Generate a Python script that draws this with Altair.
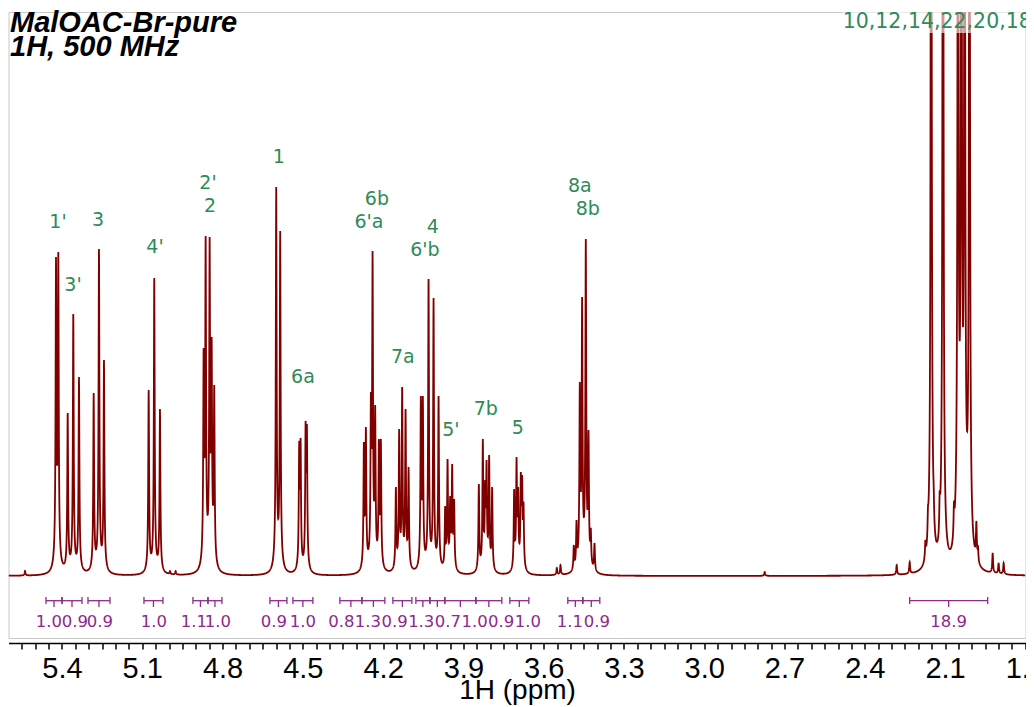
import numpy as np
import pandas as pd
import altair as alt

PPM_LEFT, PPM_RIGHT = 5.5999, 1.7995
HW = 0.0018    # narrow Lorentzian half width (ppm)
HWB = 0.008    # broad foot half width (ppm)
BF = 0.05      # fraction of the broad foot

# ---- peaks: position (ppm) and apex height (px above baseline)
peak_ppm = [
    5.5382,
    5.4224, 5.4138,
    5.3787, 5.3578, 5.3365,
    5.2816, 5.2618, 5.2431,
    5.0761, 5.0552, 5.0339,
    4.9966, 4.9753,
    4.8707, 4.8632, 4.8483, 4.8408, 4.8311,
    4.5995, 4.5846,
    4.5136, 4.5084, 4.4897, 4.4848,
    4.2719, 4.2644, 4.2457, 4.2394, 4.2297, 4.2158, 4.2084,
    4.1523, 4.1400, 4.1288, 4.1161, 4.1049,
    4.0590, 4.0515, 4.0302, 4.0115, 3.9928,
    3.9682, 3.9592, 3.9495, 3.9420, 3.9346,
    3.8423, 3.8274, 3.8188, 3.8135, 3.8038, 3.7926,
    3.7104, 3.7014, 3.6955, 3.6854, 3.6805, 3.6753,
    3.5509, 3.5371,
    3.4874, 3.4773, 3.4650, 3.4564, 3.4426, 3.4325, 3.4239, 3.4101,
    2.7739,
    2.2809, 2.2323,
    2.1736, 2.1639, 2.1520, 2.1426, 2.1202, 2.1079, 2.0668, 2.0518, 2.0391,
    2.0268, 2.0089, 1.9831, 1.9771,
    1.9222, 1.9000, 1.8812,
]
peak_height = [
    5,
    319, 324,
    163, 262, 199,
    183, 327, 216,
    186, 298, 167,
    5, 5,
    228, 340, 339, 239, 191,
    389, 345,
    135, 138, 155, 152,
    134, 149, 184, 325, 171, 137, 137,
    89, 147, 189, 167, 109,
    180, 180, 297, 278, 180,
    70, 117, 80, 112, 77,
    92, 137, 96, 116, 121, 89,
    87, 119, 89, 104, 101, 74,
    8, 11,
    31, 56, 194, 279, 337, 146, 48, 33,
    4,
    11, 14,
    36, 70, 1200, 90, 85, 1200, 75, 1100, 1100,
    1100, 1100, 55, 30,
    23, 13, 13,
]

# ---- assignment labels
peak_labels = ["1'", "3'", "3", "4'", "2'", "2", "1", "6a", "6b", "6'a",
               "4", "6'b", "7a", "5'", "7b", "5", "8a", "8b"]
label_ppm = [5.4149, 5.3589, 5.2655, 5.0526, 4.8546, 4.8471, 4.5894, 4.4997,
             4.2233, 4.2532, 4.0141, 4.0440, 4.1262, 3.9469, 3.8161, 3.6966,
             3.4650, 3.4351]
label_h = [354, 291, 356, 329, 393, 370, 419, 199, 377, 354, 349, 326, 219,
           146, 167, 148, 390, 367]
acetyl_label = "10,12,14,22,20,18"
acetyl_label_ppm = 2.4826
acetyl_label_h = 554

# ---- integrals
int_from = [5.4598, 5.4000, 5.3029, 5.0937, 4.9107, 4.8546, 4.6230, 4.5371,
            4.3615, 4.2793, 4.1635, 4.0776, 4.0253, 3.9693, 3.8535, 3.7265,
            3.5098, 3.4538, 2.2323]
int_to = [5.4000, 5.3253, 5.2207, 5.0227, 4.8546, 4.8023, 4.5595, 4.4624,
          4.2793, 4.1934, 4.0926, 4.0253, 3.9693, 3.8535, 3.7564, 3.6555,
          3.4538, 3.3903, 1.9409]
int_value = ["1.0", "0.9", "0.9", "1.0", "1.1", "1.0", "0.9", "1.0", "0.8",
             "1.3", "0.9", "1.3", "0.7", "1.0", "0.9", "1.0", "1.1", "0.9", "18.9"]
int_label_ppm = [5.4486, 5.3514, 5.2581, 5.0563, 4.9069, 4.8173, 4.6081, 4.4997,
                 4.3563, 4.2569, 4.1572, 4.0575, 3.9581, 3.8584, 3.7586, 3.6593,
                 3.5024, 3.4015, 2.0866]


def shape(d):
    return (1 - BF) / (1.0 + (d / HW) ** 2) + BF / (1.0 + (d / HWB) ** 2)


# ---- build spectrum from the peak list
pos = np.array(peak_ppm)
hts = np.array(peak_height, dtype=float)
M = shape(pos[:, None] - pos[None, :])
amp = np.clip(np.linalg.solve(M, hts), 0, None)
grid = np.unique(np.round(np.concatenate([np.arange(PPM_RIGHT, PPM_LEFT, 0.0005), pos]), 5))
inten = (amp[None, :] * shape(grid[:, None] - pos[None, :])).sum(axis=1)
spec = pd.DataFrame({"ppm": grid, "v": np.round(inten, 2)})

labels_df = pd.DataFrame({"ppm": label_ppm, "v": label_h, "t": peak_labels})
acet_df = pd.DataFrame({"ppm": [acetyl_label_ppm], "ppm2": [PPM_RIGHT],
                        "v": [acetyl_label_h], "vb": [acetyl_label_h - 11], "vt": [564],
                        "t": [acetyl_label]})

BR_Y, END_TOP, END_BOT, MID_BOT, LAB_Y = -24.7, -21, -28, -31, -45.7
integ = pd.DataFrame({"ppm": int_from, "ppm2": int_to, "t": int_value, "lp": int_label_ppm})
integ["mid"] = (integ["ppm"] + integ["ppm2"]) / 2
integ["yb"] = BR_Y
integ["yt"] = END_TOP
integ["ye"] = END_BOT
integ["ym"] = MID_BOT
integ["yl"] = LAB_Y

DARKRED = "#800000"
GREEN = "#2e8b57"
PURPLE = "#8e2a8e"

tick_vals = [round(v, 2) for v in np.arange(1.80, 5.6001, 0.05)]
XS = alt.Scale(domain=[PPM_RIGHT, PPM_LEFT], reverse=True, nice=False, zero=False)
YS = alt.Scale(domain=[-62, 564], nice=False, zero=False)
AX = alt.Axis(
    values=tick_vals,
    labelExpr="abs(round(datum.value*100)) % 30 == 0 ? format(datum.value, '.1f') : ''",
    title="1H (ppm)", titleFont="Liberation Sans", titleFontSize=28,
    titleFontWeight="normal", titleColor="black", titleY=55, titleBaseline="alphabetic",
    labelFont="Liberation Sans", labelFontSize=29, labelColor="black",
    labelFlush=False, labelOverlap=False, labelBound=False, labelPadding=5,
    tickSize=6, tickColor="black", tickWidth=1.5,
    domainColor="black", domainWidth=1.5, offset=5, grid=False,
)


def X(field="ppm"):
    return alt.X(f"{field}:Q", scale=XS, axis=AX)


def Y(field="v"):
    return alt.Y(f"{field}:Q", scale=YS, axis=None)


line = alt.Chart(spec).mark_line(color=DARKRED, strokeWidth=1.8, clip=True).encode(x=X(), y=Y())

veil = alt.Chart(acet_df).mark_rect(color="white", opacity=0.6, clip=True).encode(
    x=X(), x2="ppm2:Q", y=Y("vb"), y2="vt:Q"
)

peak_txt = alt.Chart(labels_df).mark_text(
    font="DejaVu Sans", fontSize=19, color=GREEN, align="center", baseline="middle"
).encode(x=X(), y=Y(), text="t:N")

acet_txt = alt.Chart(acet_df).mark_text(
    font="DejaVu Sans", fontSize=20.5, color=GREEN, align="left", baseline="middle"
).encode(x=X(), y=Y(), text="t:N")

br_h = alt.Chart(integ).mark_rule(color=PURPLE, strokeWidth=1.3).encode(
    x=X(), x2="ppm2:Q", y=Y("yb"))
br_l = alt.Chart(integ).mark_rule(color=PURPLE, strokeWidth=1.3).encode(
    x=X(), y=Y("yt"), y2="ye:Q")
br_r = alt.Chart(integ).mark_rule(color=PURPLE, strokeWidth=1.3).encode(
    x=X("ppm2"), y=Y("yt"), y2="ye:Q")
br_m = alt.Chart(integ).mark_rule(color=PURPLE, strokeWidth=1.3).encode(
    x=X("mid"), y=Y("yb"), y2="ym:Q")
br_t = alt.Chart(integ).mark_text(
    font="DejaVu Sans", fontSize=16.5, color=PURPLE, align="center", baseline="middle"
).encode(x=X("lp"), y=Y("yl"), text="t:N")

title1 = alt.Chart(acet_df).mark_text(
    text="MalOAC-Br-pure", font="Liberation Sans", fontSize=29, fontWeight="bold",
    fontStyle="italic", color="black", align="left", baseline="alphabetic"
).encode(x=alt.value(1.5), y=alt.value(19.7))
title2 = alt.Chart(acet_df).mark_text(
    text="1H, 500 MHz", font="Liberation Sans", fontSize=29, fontWeight="bold",
    fontStyle="italic", color="black", align="left", baseline="alphabetic"
).encode(x=alt.value(1.5), y=alt.value(44))

chart = alt.layer(
    line, veil, peak_txt, acet_txt, br_h, br_l, br_r, br_m, br_t, title1, title2
).properties(
    width=1017, height=626,
    autosize=alt.AutoSizeParams(type="none"),
    padding={"left": 0.5, "top": 4, "right": 0.5, "bottom": 70},
    background="white",
).configure_view(stroke="#c8c8c8", strokeWidth=1)

chart.save("out.html", embed_options={"renderer": "svg", "actions": False})
